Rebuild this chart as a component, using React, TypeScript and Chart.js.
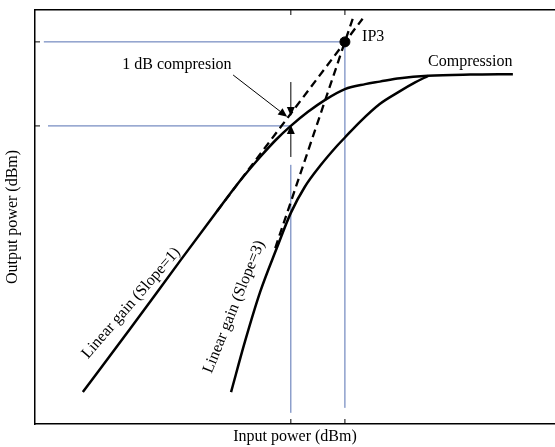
import React, { useEffect, useRef } from "react";
import { Chart, registerables } from "chart.js";

Chart.register(...registerables);

// Axis marker values (input P1dB / IIP3, output P1dB / OIP3)
const inputTicks = [49.2, 59.6];
const outputTicks = [72.0, 92.3];

// Fundamental (slope = 1) response
const gainX = [9.2, 18.3, 27.9, 35.0, 39.4, 43.3, 46.3, 49.2, 52.5, 55.8, 59.6, 63.5, 66.3, 70.2, 75.6, 83.7, 91.9];
const gainY = [7.7, 23.0, 39.4, 51.4, 58.7, 64.5, 68.6, 72.0, 75.4, 78.3, 80.9, 82.1, 82.7, 83.5, 84.1, 84.4, 84.5];

// Third-order (slope = 3) response
const im3X = [37.7, 40.4, 43.3, 46.5, 49.2, 51.9, 54.8, 58.1, 59.6, 62.5, 66.3, 70.2, 73.1, 75.6];
const im3Y = [7.7, 20.0, 31.9, 42.5, 51.0, 57.3, 62.3, 67.2, 69.2, 73.0, 77.3, 80.4, 82.5, 84.1];

// Linear extrapolations
const extrap1X = [35.0, 63.0];
const extrap1Y = [51.4, 97.9];
const extrap3X = [46.2, 61.1];
const extrap3Y = [42.5, 97.9];

// IP3 point
const ip3X = [59.6];
const ip3Y = [92.3];

// Guide lines
const guideIp3HX = [1.7, 59.6];
const guideIp3HY = [92.3, 92.3];
const guideP1HX = [2.5, 49.2];
const guideP1HY = [72.0, 72.0];
const guideP1VX = [49.2, 49.2];
const guideP1VY = [2.7, 62.6];
const guideIp3VX = [59.6, 59.6];
const guideIp3VY = [3.9, 92.3];

// Annotation values
const compArrowX = 49.2;
const compUpperY = [82.6, 74.4];
const compLowerY = [64.5, 72.2];
const leaderX = [38.1, 48.5];
const leaderY = [84.3, 74.2];

const labelCompX = 27.3;
const labelCompY = 86.7;
const labelSatX = 83.7;
const labelSatY = 87.4;
const labelIp3X = 62.9;
const labelIp3Y = 93.5;
const labelSlope1X = 18.5;
const labelSlope1Y = 29.2;
const labelSlope3X = 38.3;
const labelSlope3Y = 28.3;

const FONT = '"Liberation Serif", "Times New Roman", serif';
const BLUE = "#5570b2";

const pts = (xs: number[], ys: number[]) => xs.map((x, i) => ({ x, y: ys[i] }));

const annotPlugin = {
  id: "annot",
  afterDatasetsDraw(chart: any) {
    const { ctx, chartArea: a, scales } = chart;
    const X = (v: number) => scales.x.getPixelForValue(v);
    const Y = (v: number) => scales.y.getPixelForValue(v);
    ctx.save();
    ctx.strokeStyle = "#000";
    ctx.fillStyle = "#000";
    ctx.lineWidth = 1;
    const line = (x1: number, y1: number, x2: number, y2: number) => {
      ctx.beginPath();
      ctx.moveTo(x1, y1);
      ctx.lineTo(x2, y2);
      ctx.stroke();
    };
    const arrow = (x1: number, y1: number, x2: number, y2: number, len = 9, hw = 4) => {
      const ang = Math.atan2(y2 - y1, x2 - x1);
      const bx = x2 - len * Math.cos(ang);
      const by = y2 - len * Math.sin(ang);
      line(x1, y1, bx, by);
      ctx.beginPath();
      ctx.moveTo(x2, y2);
      ctx.lineTo(bx + hw * Math.sin(ang), by - hw * Math.cos(ang));
      ctx.lineTo(bx - hw * Math.sin(ang), by + hw * Math.cos(ang));
      ctx.closePath();
      ctx.fill();
    };
    // tick marks (inward)
    for (const t of inputTicks) {
      line(X(t), a.top, X(t), a.top + 5);
      line(X(t), a.bottom, X(t), a.bottom - 5);
    }
    for (const t of outputTicks) {
      line(a.left, Y(t), a.left + 5, Y(t));
    }
    // 1 dB compression arrows
    arrow(X(compArrowX), Y(compUpperY[0]), X(compArrowX), Y(compUpperY[1]));
    arrow(X(compArrowX), Y(compLowerY[0]), X(compArrowX), Y(compLowerY[1]));
    arrow(X(leaderX[0]), Y(leaderY[0]), X(leaderX[1]), Y(leaderY[1]));

    // texts
    ctx.font = `16px ${FONT}`;
    ctx.textBaseline = "middle";
    ctx.textAlign = "center";
    ctx.fillText("1 dB compresion", X(labelCompX), Y(labelCompY));
    ctx.fillText("Compression", X(labelSatX), Y(labelSatY));
    ctx.textAlign = "left";
    ctx.fillText("IP3", X(labelIp3X), Y(labelIp3Y));
    ctx.textAlign = "center";
    ctx.save();
    ctx.translate(X(labelSlope1X), Y(labelSlope1Y));
    ctx.rotate((-49 * Math.PI) / 180);
    ctx.fillText("Linear gain (Slope=1)", 0, 0);
    ctx.restore();
    ctx.save();
    ctx.translate(X(labelSlope3X), Y(labelSlope3Y));
    ctx.rotate((-68 * Math.PI) / 180);
    ctx.fillText("Linear gain (Slope=3)", 0, 0);
    ctx.restore();
    ctx.restore();
  },
};

export default function App() {
  const ref = useRef<HTMLCanvasElement>(null);
  useEffect(() => {
    const solid = (xs: number[], ys: number[]) => ({
      data: pts(xs, ys),
      showLine: true,
      borderColor: "#000",
      borderWidth: 2.5,
      pointRadius: 0,
      pointHoverRadius: 0,
      cubicInterpolationMode: "monotone" as const,
      tension: 0.4,
    });
    const dashed = (xs: number[], ys: number[]) => ({
      data: pts(xs, ys),
      showLine: true,
      borderColor: "#000",
      borderWidth: 2.3,
      borderDash: [8, 5],
      pointRadius: 0,
      pointHoverRadius: 0,
    });
    const guide = (xs: number[], ys: number[]) => ({
      data: pts(xs, ys),
      showLine: true,
      borderColor: BLUE,
      borderWidth: 1,
      pointRadius: 0,
      pointHoverRadius: 0,
    });
    const scaleBase = {
      type: "linear" as const,
      min: 0,
      max: 100,
      grid: { display: false, drawTicks: false, tickLength: 0 },
      ticks: { display: false },
      border: { display: true, color: "#000", width: 1.5 },
    };
    const chart = new Chart(ref.current!, {
      type: "scatter",
      data: {
        datasets: [
          {
            data: pts(ip3X, ip3Y),
            pointRadius: 5,
            pointHoverRadius: 5,
            pointBackgroundColor: "#000",
            pointBorderColor: "#000",
            showLine: false,
          },
          solid(gainX, gainY),
          solid(im3X, im3Y),
          dashed(extrap1X, extrap1Y),
          dashed(extrap3X, extrap3Y),
          guide(guideIp3HX, guideIp3HY),
          guide(guideP1HX, guideP1HY),
          guide(guideP1VX, guideP1VY),
          guide(guideIp3VX, guideIp3VY),
        ] as any,
      },
      options: {
        animation: false,
        responsive: false,
        events: [],
        layout: { autoPadding: false, padding: { left: 0, top: 10, right: 0, bottom: 0 } },
        plugins: { legend: { display: false }, tooltip: { enabled: false } },
        scales: {
          x: {
            ...scaleBase,
            position: "bottom",
            title: {
              display: true,
              text: "Input power (dBm)",
              color: "#000",
              font: { family: FONT, size: 16 },
              padding: { top: 3.4, bottom: 0.4 },
            },
          },
          xTop: { ...scaleBase, position: "top" },
          y: {
            ...scaleBase,
            position: "left",
            title: {
              display: true,
              text: "Output power (dBm)",
              color: "#000",
              font: { family: FONT, size: 16 },
              padding: { top: 3.4, bottom: 12.4 },
            },
          },
        },
      } as any,
      plugins: [annotPlugin],
    });
    return () => chart.destroy();
  }, []);
  return (
    <div style={{ position: "fixed", left: 0, top: 0, width: 555, height: 447, background: "#fff" }}>
      <canvas ref={ref} width={555} height={447} style={{ display: "block", width: 555, height: 447 }} />
    </div>
  );
}
